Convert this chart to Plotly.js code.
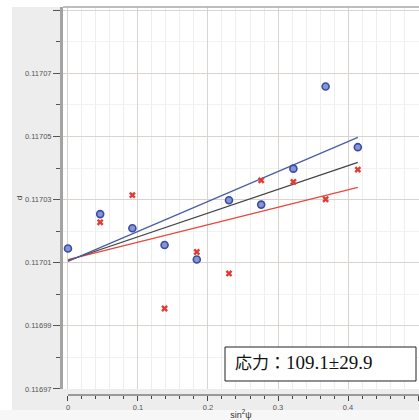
<!DOCTYPE html>
<html>
<head>
<meta charset="utf-8">
<script src="https://cdn.plot.ly/plotly-3.0.1.min.js"></script>
<style>html,body{margin:0;padding:0;background:#fff;}#chart{width:419px;height:420px;}</style>
</head>
<body>
<div id="chart"></div>
<script>
// sin^2(psi) positions
const xBlue = [0, 0.046, 0.092, 0.138, 0.184, 0.230, 0.276, 0.322, 0.368, 0.414];
const yBlue = [0.1170145, 0.1170254, 0.1170209, 0.1170156, 0.1170110, 0.1170298, 0.1170284, 0.1170398, 0.1170658, 0.1170466];
const xRed = [0.046, 0.092, 0.138, 0.184, 0.230, 0.276, 0.322, 0.368, 0.414];
const yRed = [0.1170228, 0.1170314, 0.1169955, 0.1170134, 0.1170066, 0.1170361, 0.1170356, 0.1170301, 0.1170395];
// fitted lines (endpoints)
const xFit = [0, 0.414];
const yFitBlue = [0.1170104, 0.1170497];
const yFitBlack = [0.1170107, 0.1170418];
const yFitRed = [0.1170110, 0.1170339];
// y tick values and labels (top tick unlabeled)
const yTickVals = [0.11697, 0.11699, 0.11701, 0.11703, 0.11705, 0.11707, 0.11709];
const yTickText = ['0.11697', '0.11699', '0.11701', '0.11703', '0.11705', '0.11707', ''];
const stressLabel = "応力：<span style='font-size:19px'>109.1±29.9</span>";

const traces = [
  {x: xFit, y: yFitRed, mode: 'lines', line: {color: '#e8483a', width: 1.3}, hoverinfo: 'skip'},
  {x: xFit, y: yFitBlack, mode: 'lines', line: {color: '#444444', width: 1.3}, hoverinfo: 'skip'},
  {x: xFit, y: yFitBlue, mode: 'lines', line: {color: '#4b5cab', width: 1.3}, hoverinfo: 'skip'},
  {x: xBlue, y: yBlue, mode: 'markers', marker: {symbol: 'circle', size: 7, color: '#8595d3', line: {color: '#3a4ca3', width: 1.6}}},
  {x: xRed, y: yRed, mode: 'markers', marker: {symbol: 'x', size: 6, color: '#e23b33', line: {width: 0}}}
];

const majorGrid = '#dbd3ce';
const minorGrid = '#eeeeee';

const layout = {
  width: 419, height: 420,
  margin: {l: 63, r: 0, t: 7, b: 25, pad: 0},
  paper_bgcolor: '#ededed',
  plot_bgcolor: '#ffffff',
  showlegend: false,
  font: {family: 'Liberation Sans, Arial, sans-serif', color: '#555'},
  xaxis: {
    range: [-0.0071, 0.5014], domain: [0, 1], anchor: 'free', position: 0,
    showline: false, zeroline: false, automargin: false,
    tick0: 0, dtick: 0.1, ticks: 'outside', ticklen: 5, tickcolor: '#444', tickwidth: 1,
    showgrid: true, gridcolor: majorGrid, gridwidth: 1,
    minor: {dtick: 0.02, ticks: 'outside', ticklen: 3, tickcolor: '#444', showgrid: true, gridcolor: minorGrid},
    tickfont: {size: 7.5, color: '#555'},
    title: {text: 'sin<sup>2</sup>ψ', font: {size: 9, color: '#333'}, standoff: 0}
  },
  yaxis: {
    range: [0.11697, 0.117091], domain: [0.0155, 1],
    zeroline: false, automargin: false,
    showline: true, linecolor: '#a3a3a3', linewidth: 3,
    tickmode: 'array', tickvals: yTickVals, ticktext: yTickText,
    ticks: 'outside', ticklen: 7, tickcolor: '#555', tickwidth: 1,
    showgrid: true, gridcolor: majorGrid, gridwidth: 1,
    minor: {tick0: 0.11697, dtick: 0.00001, ticks: 'outside', ticklen: 4, tickcolor: '#555', showgrid: true, gridcolor: '#f2f2f2'},
    tickfont: {size: 7.5, color: '#555'},
    title: {text: 'd', font: {size: 8, color: '#333'}, standoff: 2}
  },
  shapes: [
    {type: 'rect', xref: 'paper', yref: 'paper', x0: -0.2, x1: -0.1433, y0: -0.1, y1: 1.05, fillcolor: '#ffffff', line: {width: 0}, layer: 'below'},
    {type: 'rect', xref: 'paper', yref: 'paper', x0: -0.2, x1: 1.1, y0: 1.0, y1: 1.05, fillcolor: '#ffffff', line: {width: 0}, layer: 'below'},
    {type: 'rect', xref: 'paper', yref: 'paper', x0: -0.2, x1: 1.1, y0: -0.1, y1: -0.0387, fillcolor: '#f7f7f7', line: {width: 0}, layer: 'below'},
    {type: 'line', xref: 'paper', yref: 'paper', x0: 0, x1: 1, y0: 1, y1: 1, line: {color: '#a8a8a8', width: 1.5}},
    {type: 'line', xref: 'x', yref: 'paper', x0: 0, x1: 0.5014, y0: 0, y1: 0, line: {color: '#444', width: 1}},
    {type: 'rect', xref: 'paper', yref: 'paper', x0: 0.4551, x1: 0.9916, y0: 0.0361, y1: 0.1237, fillcolor: '#ffffff', line: {color: '#222', width: 1}, layer: 'above'}
  ],
  annotations: [
    {text: stressLabel, xref: 'paper', yref: 'paper', x: 0.4775, y: 0.0825, xanchor: 'left', yanchor: 'middle', showarrow: false,
     font: {family: 'Liberation Serif, Noto Sans CJK JP, serif', size: 17, color: '#111'}}
  ]
};

Plotly.newPlot('chart', traces, layout, {staticPlot: true, displayModeBar: false});
</script>
</body>
</html>
